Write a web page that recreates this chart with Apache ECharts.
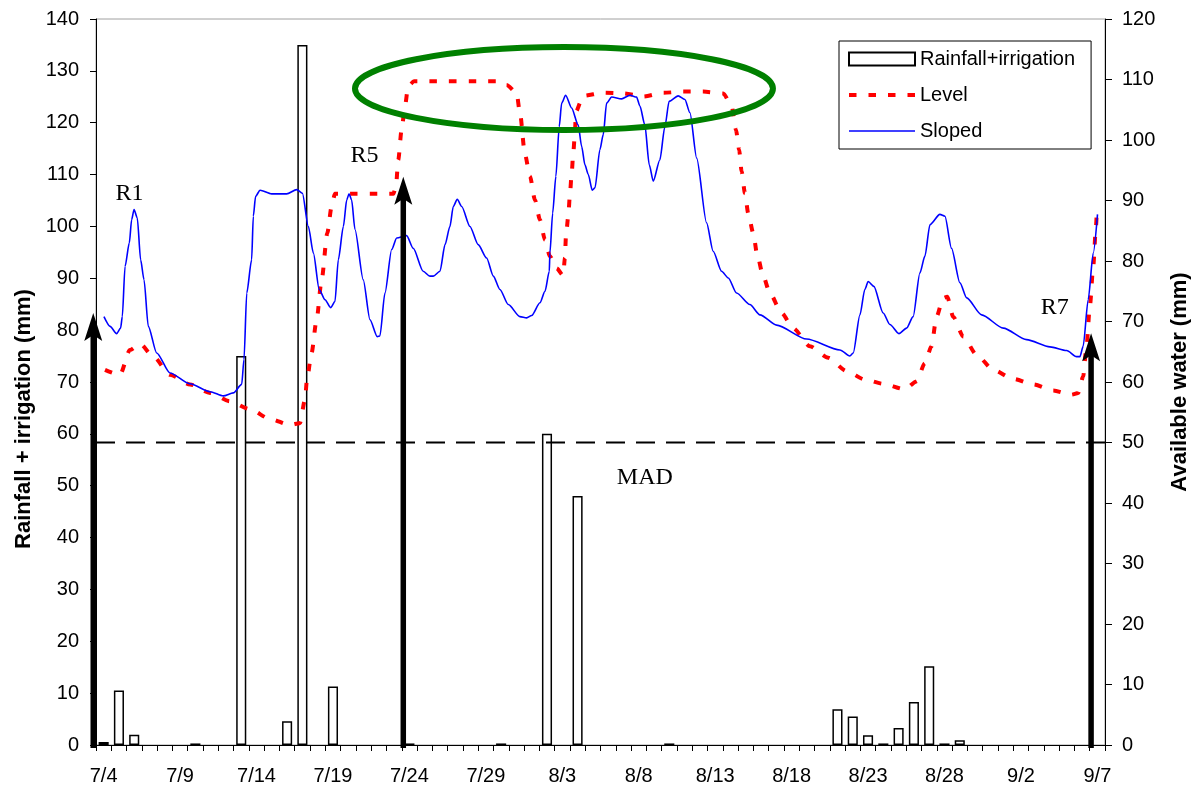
<!DOCTYPE html>
<html><head><meta charset="utf-8">
<script src="https://cdn.jsdelivr.net/npm/echarts@6/dist/echarts.min.js"></script>
<style>html,body{margin:0;padding:0;background:#fff}#c{width:1200px;height:793px}</style>
</head><body><div id="c"></div>
<script>
// ---- categories: one per day, 7/4 .. 9/7 ----
const firstMonth = 7, firstDay = 4, dayCount = 66;
const monthLength = {7: 31, 8: 31, 9: 30};
const dates = [];
(function(){ let m = firstMonth, d = firstDay; for (let i = 0; i < dayCount; i++) { dates.push(m + '/' + d); d++; if (d > monthLength[m]) { d = 1; m++; } } })();

// ---- Rainfall + irrigation (mm), left axis, one value per day (null = none) ----
const rainfall = [
  0.6, 10.5, 2.0, null, null, null, 0.3, null, null, 75,
  null, null, 4.6, 135, null, 11.3, null, null, null, null,
  0.3, null, null, null, null, null, 0.3, null, null, 60,
  null, 48, null, null, null, null, null, 0.3, null, null,
  null, null, null, null, null, null, null, null, 6.9, 5.5,
  1.9, 0.3, 3.3, 8.3, 15.2, 0.3, 0.9, null, null, null,
  null, null, null, null, null, null
];

// ---- Available water (mm), right axis; [day index (0 = 7/4), value] ----
const level = [
  [0.09,62.0],[1.07,61.2],[1.72,65.3],[2.38,66.3],[3.25,64.2],[4.34,61.2],[5.65,59.6],[6.96,58.2],
  [8.26,56.8],[9.57,55.5],[10.88,53.9],[12.19,52.9],[12.84,53.2],[13.17,57.1],[13.3,60.4],[13.6,64.8],
  [13.93,70.3],[14.26,76.9],[14.63,84.6],[14.91,89.0],[15.13,91.1],[18.95,91.1],[19.12,92.3],[19.27,96.7],
  [19.49,101.7],[19.71,105.6],[19.92,108.9],[20.3,109.7],[25.92,109.7],[26.36,109.1],[27.01,107.8],[27.23,104.5],
  [27.56,97.6],[27.89,94.0],[28.21,90.1],[28.54,86.8],[28.87,83.5],[29.19,80.8],[29.63,78.8],[30.06,77.6],
  [30.17,80.5],[30.24,84.1],[30.39,87.4],[30.5,91.0],[30.61,94.3],[30.72,97.9],[30.83,101.2],[30.89,104.7],
  [31.37,107.3],[32.68,107.8],[33.99,107.7],[35.3,107.2],[36.61,107.8],[37.91,108.0],[39.22,108.0],[40.53,107.7],
  [41.08,105.6],[41.36,101.7],[41.57,98.4],[41.73,94.8],[41.95,91.2],[42.16,87.9],[42.49,84.6],[42.75,81.0],
  [43.14,77.5],[43.58,74.7],[44.34,71.4],[45.1,68.9],[46.2,65.9],[47.4,64.0],[48.6,61.8],[49.79,60.4],
  [50.99,59.7],[52.41,58.8],[53.17,60.1],[53.72,63.1],[54.15,65.9],[54.48,70.8],[54.92,73.9],[55.18,74.1],
  [55.57,70.8],[56.23,67.5],[57.1,64.5],[58.19,62.0],[59.5,60.5],[60.81,59.6],[62.11,58.6],[63.31,57.9],
  [63.75,58.2],[64.07,60.9],[64.29,65.9],[64.51,72.5],[64.73,79.1],[64.91,85.7],[64.95,87.4]
];
const sloped = [
  [0.02,70.8],[0.42,69.2],[0.85,68.0],[1.11,68.9],[1.22,70.8],[1.4,79.1],[1.68,83.0],[1.83,86.8],
  [1.99,88.5],[2.2,87.1],[2.42,80.2],[2.64,76.9],[2.92,69.2],[3.47,64.8],[4.34,61.5],[5.65,59.7],
  [6.96,58.4],[7.83,57.7],[8.48,58.2],[9.03,59.6],[9.18,63.7],[9.36,74.7],[9.68,80.2],[9.79,87.4],
  [9.94,90.7],[10.23,91.7],[10.99,91.1],[11.97,91.1],[12.63,91.8],[13.0,91.2],[13.39,85.7],[13.72,81.3],
  [14.1,75.3],[14.48,73.6],[14.85,72.3],[15.13,73.3],[15.35,80.2],[15.68,85.7],[15.9,90.1],[16.05,91.1],
  [16.22,90.1],[16.44,85.2],[16.98,76.9],[17.42,70.3],[17.9,67.5],[18.07,67.6],[18.4,74.7],[18.84,81.9],
  [19.17,83.8],[19.82,84.2],[20.25,82.1],[20.9,78.3],[21.34,77.5],[21.56,77.5],[22.0,78.3],[22.33,82.7],
  [22.65,85.7],[22.87,89.0],[23.13,90.2],[23.42,89.0],[23.96,85.7],[24.5,82.7],[25.05,80.5],[25.49,77.5],
  [25.92,75.3],[26.47,72.8],[27.23,70.8],[27.67,70.6],[28.0,71.0],[28.54,73.1],[28.87,75.0],[29.15,78.3],
  [29.19,81.3],[29.37,87.9],[29.58,94.0],[29.8,102.2],[29.96,106.1],[30.22,107.4],[30.61,105.3],[31.04,102.5],
  [31.27,98.9],[31.48,95.9],[31.7,94.3],[31.96,91.7],[32.14,92.1],[32.46,98.4],[32.68,100.9],[32.9,106.1],
  [33.23,107.1],[33.88,106.8],[34.43,107.4],[34.86,107.1],[35.08,105.6],[35.4,102.5],[35.69,95.9],[35.95,93.2],
  [36.38,96.7],[36.71,102.2],[36.99,106.4],[37.58,107.3],[38.02,106.7],[38.35,104.5],[38.79,97.0],[39.44,86.3],
  [39.87,81.6],[40.42,78.3],[40.86,77.2],[41.4,74.7],[42.27,72.8],[42.93,71.1],[44.02,69.4],[45.98,67.1],
  [48.16,65.3],[48.81,64.3],[49.03,64.8],[49.47,71.1],[49.79,75.3],[50.01,76.6],[50.38,75.8],[50.99,71.4],
  [51.43,69.5],[52.02,68.0],[52.52,68.9],[52.95,70.8],[53.39,78.0],[53.72,80.8],[54.05,86.0],[54.7,87.7],
  [55.03,87.4],[55.46,82.1],[56.01,76.4],[56.45,73.9],[57.43,71.1],[58.85,68.9],[60.37,67.0],[61.9,65.8],
  [62.99,65.2],[63.64,64.2],[63.86,64.2],[64.07,65.9],[64.4,73.6],[64.73,81.3],[65.01,87.7]
];
const MAD = 50; // right axis
// irrigation events drawn as arrows: [day, tip value on left axis]
const irrigationArrows = [[-0.68, 83.3], [19.6, 109.6], [64.59, 79.4]];
// text notes: [text, day, right-axis value]
const notes = [['R1', 1.69, 91.1], ['R5', 17.06, 97.4], ['R7', 62.22, 72.3], ['MAD', 35.4, 44.2]];
const highlight = {day: 30.11, value: 108.5, halfDays: 13.67, halfValue: 6.86};

const leftTicks = {min: 0, max: 140, interval: 10};
const rightTicks = {min: 0, max: 120, interval: 10};

const FONT = 'Liberation Sans';
const chart = echarts.init(document.getElementById('c'), null, {renderer: 'canvas'});
const black = '#000';
const levelStyle = {color: '#ff0000', width: 4, type: [7.5, 12], cap: 'butt'};
const slopedStyle = {color: '#0000ff', width: 1.6};
const option = {
  backgroundColor: '#fff',
  animation: false,
  textStyle: {fontFamily: FONT},
  grid: {left: 96, right: 95, top: 19, bottom: 48, containLabel: false, outerBoundsMode: 'none',
         show: true, borderColor: '#a0a0a0', borderWidth: 1, backgroundColor: 'transparent'},
  legend: {
    data: [
      {name: 'Rainfall+irrigation', icon: 'rect'},
      {name: 'Level', itemStyle: {opacity: 0}, lineStyle: levelStyle},
      {name: 'Sloped', itemStyle: {opacity: 0}, lineStyle: slopedStyle}
    ],
    orient: 'vertical', left: 839, top: 41, itemWidth: 66, itemHeight: 13, itemGap: 16,
    padding: [8, 16, 8, 8], borderColor: black, borderWidth: 1, backgroundColor: '#fff',
    selectedMode: false,
    textStyle: {fontSize: 20, fontFamily: FONT, color: black}
  },
  xAxis: [
    {type: 'category', data: dates, boundaryGap: true,
     axisLine: {onZero: false, lineStyle: {color: black, width: 1}},
     axisTick: {show: true, interval: 0, length: 6, lineStyle: {color: black}},
     axisLabel: {interval: 4, fontSize: 20, color: black, margin: 21, fontFamily: FONT},
     splitLine: {show: false}},
    {type: 'value', min: -0.5, max: dayCount - 0.5, show: false, axisLine: {onZero: false}, splitLine: {show: false}}
  ],
  yAxis: [
    {type: 'value', min: leftTicks.min, max: leftTicks.max, interval: leftTicks.interval,
     name: 'Rainfall + irrigation (mm)', nameLocation: 'middle', nameGap: 61, nameRotate: 90,
     nameTextStyle: {fontSize: 22, fontWeight: 'bold', color: black, fontFamily: FONT, padding: [0, 74, 0, 0]},
     axisLine: {show: true, onZero: false, lineStyle: {color: black}},
     axisTick: {show: true, length: 6, lineStyle: {color: black}},
     axisLabel: {fontSize: 20, color: black, margin: 17, fontFamily: FONT},
     splitLine: {show: false}},
    {type: 'value', position: 'right', min: rightTicks.min, max: rightTicks.max, interval: rightTicks.interval,
     name: 'Available water (mm)', nameLocation: 'middle', nameGap: 64, nameRotate: 90,
     nameTextStyle: {fontSize: 22, fontWeight: 'bold', color: black, fontFamily: FONT},
     axisLine: {show: true, onZero: false, lineStyle: {color: black}},
     axisTick: {show: true, length: 7, lineStyle: {color: black}},
     axisLabel: {fontSize: 20, color: black, margin: 17, fontFamily: FONT},
     splitLine: {show: false}}
  ],
  series: [
    {name: 'Rainfall+irrigation', type: 'bar', xAxisIndex: 0, yAxisIndex: 0, data: rainfall,
     barWidth: '66%', itemStyle: {color: '#fff', borderColor: black, borderWidth: 1.5}},
    {name: 'Level', type: 'line', xAxisIndex: 1, yAxisIndex: 1, data: level, symbol: 'none',
     smooth: 0.25, smoothMonotone: 'x', lineStyle: levelStyle, itemStyle: {color: '#ff0000'}},
    {name: 'Sloped', type: 'line', xAxisIndex: 1, yAxisIndex: 1, data: sloped, symbol: 'none',
     smooth: 0.25, smoothMonotone: 'x', lineStyle: slopedStyle, itemStyle: {color: '#0000ff'}},
    {name: 'MAD', type: 'line', xAxisIndex: 1, yAxisIndex: 1, data: [[-0.5, MAD], [dayCount - 0.5, MAD]],
     symbol: 'none', silent: true, lineStyle: {color: black, width: 2, type: [19, 11]}},
    {name: 'Irrigation', type: 'custom', xAxisIndex: 1, yAxisIndex: 0, data: irrigationArrows, clip: false,
     silent: true, z: 5,
     renderItem: function (params, api) {
       const x = api.value(0), tip = api.value(1);
       const base = api.coord([x, 0]);
       const top = api.coord([x, tip]);
       const headLen = 28, headHalf = 9, notch = 6;
       const shaftTop = top[1] + headLen - notch - 1;
       return {type: 'group', children: [
         {type: 'rect', shape: {x: base[0] - 2.75, y: shaftTop, width: 5.5, height: base[1] + 3 - shaftTop},
          style: {fill: black}},
         {type: 'polygon', shape: {points: [[top[0], top[1]], [top[0] + headHalf, top[1] + headLen],
            [top[0], top[1] + headLen - notch], [top[0] - headHalf, top[1] + headLen]]}, style: {fill: black}}
       ]};
     }}
  ]
};
chart.setOption(option);

// annotations placed through the chart's own scales
const toPx = (d, v) => chart.convertToPixel({seriesIndex: 2}, [d, v]);
const graphics = notes.map(n => {
  const p = toPx(n[1], n[2]);
  return {type: 'text', x: p[0], y: p[1], z: 100,
          style: {text: n[0], font: '24px "Liberation Serif"', fill: black, align: 'center', verticalAlign: 'middle'}};
});
const c = toPx(highlight.day, highlight.value);
const e1 = toPx(highlight.day + highlight.halfDays, highlight.value + highlight.halfValue);
graphics.push({type: 'ellipse', z: 100,
  shape: {cx: c[0], cy: c[1], rx: Math.abs(e1[0] - c[0]), ry: Math.abs(c[1] - e1[1])},
  style: {fill: 'none', stroke: '#008000', lineWidth: 6}});
chart.setOption({graphic: graphics});
</script></body></html>
